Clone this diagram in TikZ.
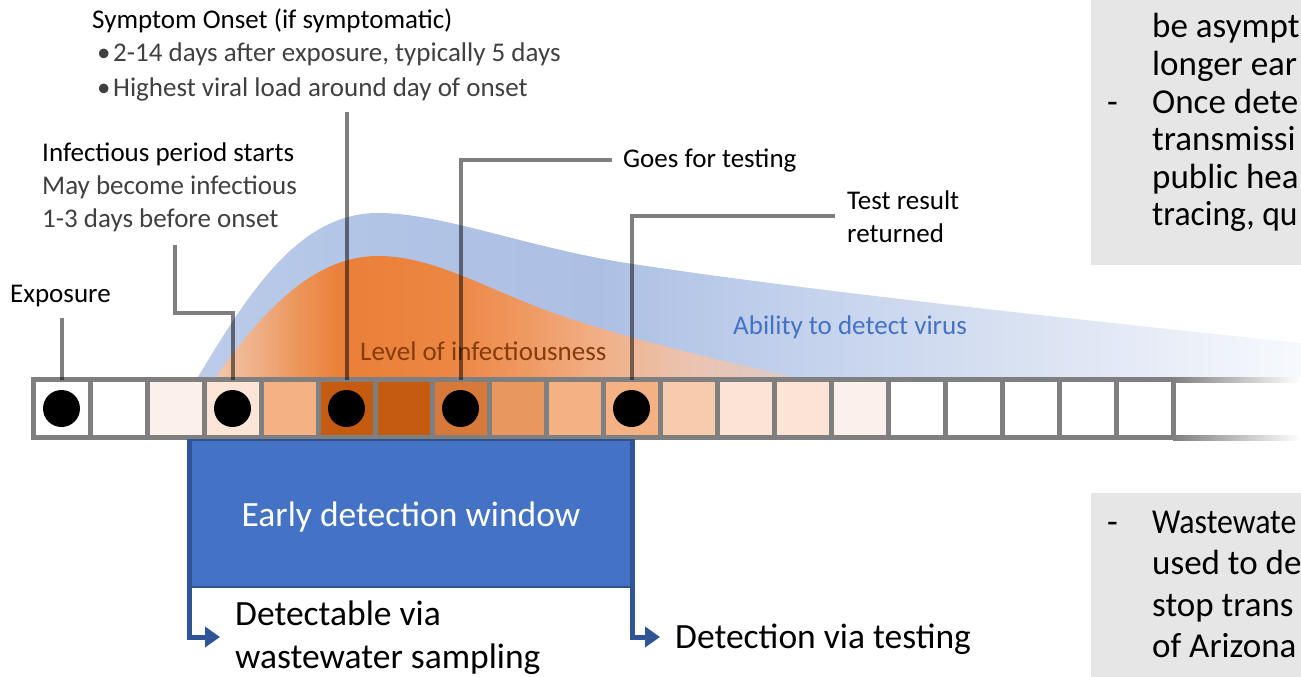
\documentclass[tikz,border=0pt]{standalone}
\usepackage{fontspec}
\setmainfont{Carlito}
\usetikzlibrary{arrows.meta,calc}
\definecolor{framegray}{HTML}{7F7F7F}
\definecolor{subgray}{HTML}{404040}
\definecolor{boxblue}{HTML}{4472C4}
\definecolor{boxborder}{HTML}{2F528F}
\definecolor{arrowblue}{HTML}{2F5597}
\definecolor{boxgray}{HTML}{E7E6E6}
\definecolor{levbrown}{HTML}{843C0C}
\definecolor{ca}{HTML}{FBF1EA}
\definecolor{cb}{HTML}{FCE4D6}
\definecolor{cc}{HTML}{F4B183}
\definecolor{cd}{HTML}{C55A11}
\definecolor{ce}{HTML}{D6793A}
\definecolor{cf}{HTML}{E8975F}
\definecolor{cg}{HTML}{F8CBAD}
\definecolor{ch}{HTML}{FBE3D5}
\definecolor{bl1}{HTML}{BCCCE9}
\definecolor{bl2}{HTML}{B1C4E6}
\definecolor{bl3}{HTML}{ADC0E4}
\definecolor{bl4}{HTML}{C3D1EC}
\definecolor{bl5}{HTML}{DCE4F3}
\definecolor{bl6}{HTML}{F7F9FD}
\definecolor{or1}{HTML}{F2C6A8}
\definecolor{or2}{HTML}{EFAE85}
\definecolor{or3}{HTML}{EC9559}
\definecolor{or4}{HTML}{EA8039}
\definecolor{or5}{HTML}{EC8642}
\definecolor{or6}{HTML}{EF9860}
\definecolor{or7}{HTML}{F1B088}
\definecolor{or8}{HTML}{EBC3AF}
\definecolor{or9}{HTML}{DCCCCB}
\pgfdeclarehorizontalshading{blueshade}{100bp}{color(0bp)=(bl1); color(25bp)=(bl1); color(33.2bp)=(bl2); color(43.2bp)=(bl3); color(52.2bp)=(bl4); color(63.6bp)=(bl5); color(75bp)=(bl6); color(100bp)=(bl6)}
\pgfdeclarehorizontalshading{orangeshade}{100bp}{color(0bp)=(or1); color(25bp)=(or1); color(28.6bp)=(or2); color(32bp)=(or3); color(35.5bp)=(or4); color(44.9bp)=(or5); color(50.9bp)=(or6); color(57.8bp)=(or7); color(64.7bp)=(or8); color(75bp)=(or9); color(100bp)=(or9)}
\begin{document}
\begin{tikzpicture}[x=1pt,y=-1pt,
  lbl/.style={inner sep=0pt, anchor=base west, font=\fontsize{27}{32}\selectfont},
  big/.style={inner sep=0pt, anchor=base west, font=\fontsize{35.5}{42}\selectfont},
  boxtxt/.style={inner sep=0pt, anchor=base west, font=\fontsize{35}{42}\selectfont},
  leader/.style={line width=4pt, draw=black, draw opacity=0.5},
  cell/.style={rectangle, draw=framegray, line width=5pt, minimum width=57pt, minimum height=58pt, inner sep=0pt, outer sep=0pt},
  dot/.style={circle, fill=black, minimum size=37pt, inner sep=0pt},
  bluearrow/.style={draw=arrowblue, line width=5pt, -{Triangle[length=15pt,width=20pt]}},
]
\useasboundingbox (0,0) rectangle (1301,677);
\clip (0,0) rectangle (1301,677);

% curves
\shade[shading=blueshade] (198,377) .. controls (250,290) and (300,213) .. (378,213) .. controls (440,213) and (520,245) .. (620,262) .. controls (800,290) and (1100,322) .. (1301,343) -- (1301,380) -- (198,380) -- cycle;
\shade[shading=orangeshade] (216,377) .. controls (270,300) and (320,256) .. (378,256) .. controls (430,256) and (480,285) .. (540,308) .. controls (620,338) and (720,360) .. (805,380) -- (216,380) -- cycle;

% texts
\node[lbl] (onset) at (92,29) {Symptom Onset (if symptomatic)};
\node[lbl, text=subgray] (onset2) at (97,62) {\makebox[16pt][l]{•}2-14 days after exposure, typically 5 days};
\node[lbl, text=subgray] (onset3) at (97,96) {\makebox[16pt][l]{•}Highest viral load around day of onset};
\node[lbl] (inf) at (42,161) {Infectious period starts};
\node[lbl, text=subgray] (inf2) at (42,194) {May become infectious};
\node[lbl, text=subgray] (inf3) at (42,227) {1-3 days before onset};
\node[lbl] (expo) at (10,302) {Exposure};
\node[lbl] (goes) at (623,167) {Goes for testing};
\node[lbl] (res1) at (847,209) {Test result};
\node[lbl] (res2) at (847,242) {returned};
\node[lbl, text=levbrown] (lev) at (360,360) {Level of infectiousness};
\node[lbl, text=boxblue] (abil) at (733,334) {Ability to detect virus};

% timeline cells
\foreach \i/\c in {1/white,2/white,3/ca,4/cb,5/cc,6/cd,7/cd,8/ce,9/cf,10/cc,11/cc,12/cg,13/ch,14/ch,15/ca,16/white,17/white,18/white,19/white,20/white}
  \node[cell, fill=\c] (c\i) at ({61.5+57*(\i-1)},408.5) {};
\shade[left color=framegray, right color=white] (1173,377) rectangle (1301,382);
\shade[left color=framegray, right color=white] (1173,435) rectangle (1301,440);

% dots
\foreach \i in {1,4,6,8,11}
  \node[dot] (d\i) at (c\i) {};

% leaders
\coordinate (rtip) at (835,216);
\draw[leader] (c1.north) -- ++(0,-61.5);
\draw[leader] (c4.north) -- ++(0,-66.5) -- ++(-57.5,0) -- ++(0,-68);
\draw[leader] (c6.north) -- ++(0,-267.5);
\draw[leader] (c8.north) |- ([xshift=-11pt]goes.west);
\draw[leader] (c11.north) |- (rtip);

% early detection window
\node[fill=boxblue, draw=boxborder, line width=1.5pt, minimum width=442pt, minimum height=147pt, inner sep=0pt] (edw) at (411,513.5) {};
\node[inner sep=0pt, anchor=base, text=white, font=\fontsize{35.5}{42}\selectfont] (edwlabel) at (411,526.5) {Early detection window};
\node[big] (ww1) at (235,625) {Detectable via};
\node[big] (ww2) at (235,668) {wastewater sampling};
\node[big] (dt) at (675,648) {Detection via testing};
\coordinate (wwtip) at (220,637);
\coordinate (dttip) at (660,637);
\draw[bluearrow] (edw.north west) |- (wwtip);
\draw[bluearrow] (edw.north east) |- (dttip);

% grey side boxes
\fill[boxgray] (1091,0) rectangle (1301,265);
\fill[boxgray] (1091,493) rectangle (1301,677);
\node[boxtxt] (t1) at (1152,38) {be asympt};
\node[boxtxt] (t2) at (1152,75.6) {longer ear};
\node[boxtxt] (t3) at (1107,113) {\makebox[45pt][l]{-}Once dete};
\node[boxtxt] (t4) at (1152,150.6) {transmissi};
\node[boxtxt] (t5) at (1152,188.2) {public hea};
\node[boxtxt] (t6) at (1152,225.8) {\scalebox{0.96}[1]{tracing, qu}};
\node[boxtxt] (b1) at (1107,533) {\makebox[45pt][l]{-}\scalebox{0.91}[1]{Wastewate}};
\node[boxtxt] (b2) at (1152,574.5) {used to de};
\node[boxtxt] (b3) at (1152,616) {stop trans};
\node[boxtxt] (b4) at (1152,657.5) {of Arizona};
\end{tikzpicture}
\end{document}
